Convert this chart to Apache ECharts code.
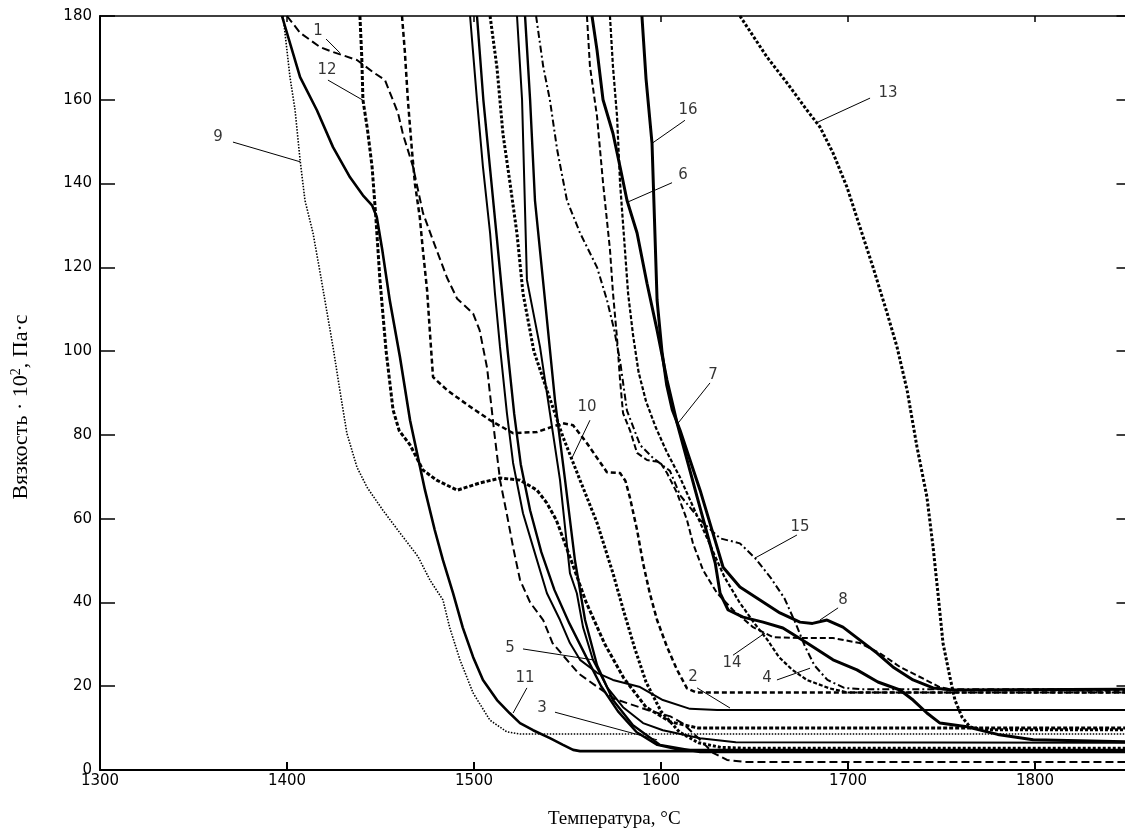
<!DOCTYPE html>
<html><head><meta charset="utf-8">
<script src="https://cdn.jsdelivr.net/npm/echarts@6/dist/echarts.min.js"></script>
<style>html,body{margin:0;padding:0;background:#fff}#c{width:1125px;height:836px}</style>
</head><body><div id="c"></div>
<script>
// ---- axis setup ----
const xTicks = [1300, 1400, 1500, 1600, 1700, 1800];
const yTicks = [0, 20, 40, 60, 80, 100, 120, 140, 160, 180];
const xTitle = 'Температура, °С';
const yTitleMain = 'Вязкость · 10';
const yTitleSup = '2';
const yTitleTail = ', Па·с';

// ---- curves: [temperature °C, viscosity ·10^2 Pa·s] ----
const curve1 = [[1400,180],[1407,176],[1417.6,172.6],[1424.6,171.4],[1437.4,169.5],[1446,166.6],[1452.4,164.7],[1459.4,156.8],[1462,151.8],[1467.4,144],[1472.7,133],[1478,126.5],[1485.6,117.5],[1491,112.5],[1499.5,109],[1503,105],[1507,96],[1509,88],[1511,80],[1514,69],[1517.6,61],[1521,53],[1524.6,45.4],[1530,40],[1537,35.8],[1542,30.3],[1556,23],[1575,17],[1595,14],[1605,12.8],[1612,11],[1620.9,7.2],[1627.8,4.1],[1635.3,2.4],[1645,1.9],[1850,1.9]];
const curve2 = [[1497.9,180],[1501.6,159.9],[1504.8,143.9],[1508.6,128.2],[1511.2,113.8],[1513.9,101],[1517.6,85.2],[1520.9,73.3],[1526.2,61.3],[1531.6,53.2],[1539,42.2],[1546,35.8],[1551.3,30.3],[1556.7,26.3],[1565.8,23.2],[1574.3,21.5],[1588.8,19.8],[1601,16.7],[1615.5,14.6],[1630,14.3],[1850,14.3]];
const curve3 = [[1523,180],[1525.7,160],[1528.3,117],[1535.3,101],[1540.6,85.2],[1546,69.2],[1551.3,47],[1555,42.2],[1558.3,34.1],[1563.6,26.3],[1571.1,19.8],[1579.7,15],[1590.4,11.2],[1601,9.5],[1620.9,7.6],[1640,6.6],[1850,6.5]];
const curve4 = [[1572.7,180],[1574.3,168],[1576.5,156],[1578.1,140.2],[1580.7,124.3],[1582.4,113.8],[1585,104],[1588,95],[1592,88],[1597,82],[1603,76],[1610,70],[1618,62],[1626,54],[1634,46],[1642,40],[1650,35],[1657,31],[1663,27],[1670,24],[1678,21.5],[1690,19.5],[1700,18.5],[1850,18.5]];
const curve5 = [[1501.6,180],[1505,160],[1508.5,144],[1512,128],[1515,114],[1518,100],[1521.5,85],[1525,73],[1530,62],[1536,52],[1543,43],[1551,35],[1560,27],[1568,20],[1577,14],[1587,9],[1598,6],[1610,4.8],[1850,4.8]];
const curve6 = [[1563.1,180],[1565.8,171.8],[1569,160],[1574.3,152],[1578.1,144],[1581.8,136],[1587.2,128.2],[1592.5,116.2],[1597.9,105],[1603.2,93.1],[1608.6,82.8],[1619.3,65.2],[1629,49.4],[1631.6,42.2],[1635.9,38.2],[1643.9,36.5],[1654.6,35.3],[1665.2,33.9],[1678.1,30.3],[1692,26.3],[1704.8,23.9],[1716,21],[1727.8,19.1],[1734.8,16.7],[1742.2,13.6],[1749.2,11.2],[1763.6,10.3],[1780,8.5],[1799,7.2],[1850,6.7]];
const curve7 = [[1527.3,180],[1530,160],[1532.6,136],[1538,112],[1543.3,88.3],[1548.7,69.2],[1554,50],[1559.4,35.8],[1565.8,25],[1574.3,16.7],[1585,10.7],[1599.5,6],[1620.9,4.3],[1850,4.3]];
const curve8 = [[1589.8,180],[1592,165],[1595.2,149.6],[1597.9,112.2],[1600.5,100],[1603,92],[1606,86],[1610.2,81.1],[1620.9,66.8],[1630,53.2],[1633.2,48.4],[1642.2,43.7],[1652.9,40.6],[1663.6,37.5],[1674.3,35.3],[1681,35],[1688.8,35.8],[1697.3,34.1],[1706.4,31],[1715.5,27.9],[1724,24.6],[1734.8,21.5],[1745.5,19.6],[1756.1,19.1],[1850,19.3]];
const curve9 = [[1397.9,180],[1401.6,165.4],[1404.3,157.6],[1407,145.6],[1409.6,136],[1413.9,128.2],[1417.6,119],[1424.6,101],[1428,91.4],[1432,80.4],[1437.4,72.3],[1442.8,67.5],[1451.3,62],[1460.4,56.6],[1470,51],[1476.5,45.3],[1483.4,40.6],[1487,34],[1492.5,26.3],[1499.5,18.4],[1508.5,11.9],[1517.6,9.1],[1524.6,8.6],[1535,8.6],[1850,8.6]];
const curve10 = [[1508.6,180],[1512.3,167.6],[1515.5,151.8],[1519.3,140],[1523,128],[1526.2,113.8],[1532,100],[1539,90.7],[1547.6,79.5],[1556.7,69.2],[1565.8,59],[1574.3,47],[1580,38],[1586,29],[1592,21],[1600,14],[1610,9],[1620,6.5],[1632,5.4],[1645,5.2],[1850,5.2]];
const curve11 = [[1397.3,180],[1407,165.4],[1416,157.5],[1424.6,148.7],[1433.7,141.5],[1440.6,137.2],[1445.5,134.8],[1448,132],[1451,124],[1455,112],[1460.4,98.6],[1465.8,83.5],[1473.8,66.8],[1479,57.3],[1483.4,50.1],[1488.8,42.2],[1494,34],[1499.5,27],[1504.8,21.5],[1512.3,16.7],[1519,13.6],[1524.6,11.2],[1531.6,9.5],[1540.6,7.6],[1547.6,6],[1553,4.8],[1556.7,4.5],[1850,4.5]];
const curve12 = [[1439,180],[1440,170],[1440.6,160],[1443,153],[1445.5,144],[1447.5,132],[1449.7,117],[1453,100],[1456.7,86],[1460,81],[1465.8,77.6],[1472.7,71.6],[1480,69.2],[1491,66.8],[1503,68.5],[1514,69.7],[1524.6,69.2],[1533.7,66.8],[1539,63.7],[1544,59.7],[1552,50],[1560,40],[1570,30],[1580,22],[1592,15],[1605,11.5],[1620,10],[1850,10]];
const curve13 = [[1642.2,180],[1656.7,170.2],[1667.4,164],[1678.1,157.5],[1685,153.5],[1692,147.3],[1699.5,139.1],[1706.4,129.6],[1713.4,120],[1720.9,109.1],[1726.2,101],[1731.6,90.7],[1736.9,77.1],[1742.2,65.2],[1745.5,53.2],[1748.1,42.2],[1750.8,30.3],[1754.5,22.2],[1757.2,16.7],[1761,12.6],[1765.2,10.3],[1772.2,9.6],[1850,9.6]];
const curve14 = [[1560.4,180],[1562,168],[1565.8,156],[1569,140.2],[1572.7,124.3],[1574.3,114],[1576.5,103],[1578.1,93.1],[1579.7,85.2],[1583.4,81.1],[1587.2,75.7],[1592.5,74],[1599.5,73.5],[1603.2,70.9],[1608.6,66.1],[1613.9,59.7],[1617.1,54.1],[1622.5,47.7],[1630,42.2],[1638.5,38.2],[1649.2,34.1],[1660,31.7],[1674.3,31.5],[1692,31.5],[1706.4,30.3],[1717,27.9],[1727.8,24.6],[1738.5,22.2],[1749,19.8],[1756,19.1],[1850,18.9]];
const curve15 = [[1533.2,180],[1537,168],[1540.6,159.9],[1544.5,148],[1549.7,136],[1556.7,128.2],[1565.8,120],[1571.1,112.2],[1575,105],[1578.1,97.7],[1581.8,85.8],[1588.8,77.6],[1595.7,74.5],[1604.8,71.4],[1610.2,65.6],[1620.9,59.7],[1631.6,55.3],[1642.2,54.1],[1650.3,50.6],[1658.8,45.8],[1666,41],[1672,35],[1677,29.5],[1682,25],[1689,21.5],[1698,19.6],[1706.4,19.3],[1850,19.3]];
const curve16 = [[1461.5,180],[1463,171.6],[1464.7,159.6],[1466.8,148],[1468.4,140],[1471,132],[1472.7,124],[1474.9,114.6],[1476.5,104],[1478.1,93.8],[1485.6,90.7],[1497,87],[1508.6,83.5],[1520.9,80.4],[1533.7,80.7],[1547.6,82.8],[1553,82.3],[1560.4,78],[1571.1,71.1],[1578.1,70.9],[1581,69],[1583.4,65],[1587.2,57.3],[1590.4,49.4],[1594,42.2],[1597.9,35.8],[1603.2,29.4],[1608.6,23.9],[1613.9,19.5],[1619,18.5],[1850,18.5]];

// ---- curve labels: text, text position, leader line start, leader line end ----
const labelTexts = ['1','12','9','16','6','13','7','10','15','8','14','4','2','5','11','3'];
const labelPos = [[1416.6,176.4],[1421.4,167.1],[1363.1,151.1],[1614.4,157.5],[1611.8,141.9],[1721.4,161.6],[1627.8,94.3],[1560.4,86.6],[1674.3,58],[1697.3,40.6],[1638,25.5],[1656.7,22],[1617.1,22.2],[1519.3,29.1],[1527.3,22],[1536.4,14.8]];
const leaderFrom = [[1420.9,174.5],[1421.9,164.7],[1371.1,149.9],[1612.8,155.1],[1605.9,140.2],[1711.8,160.4],[1626.2,92.4],[1562,83.5],[1672.7,56.1],[1694.7,38.7],[1638.5,27.4],[1662,21.5],[1619.3,19.6],[1526.2,28.9],[1528.3,19.6],[1543.3,13.8]];
const leaderTo = [[1428.3,171.2],[1440.6,159.9],[1407,145.2],[1595.2,149.6],[1581.8,135.5],[1684,154.7],[1609.1,82.8],[1552.4,74.5],[1650.3,50.6],[1685,35.8],[1655.6,32.7],[1679.7,24.3],[1636.9,14.8],[1563.6,26.3],[1520.9,13.6],[1597.9,7.2]];

const SOLID = 'solid';
const curves = [
  {d: curve1,  t: [8,4],   w: 2},
  {d: curve2,  t: SOLID,   w: 2},
  {d: curve3,  t: SOLID,   w: 2},
  {d: curve4,  t: [4,2],   w: 2.2},
  {d: curve5,  t: SOLID,   w: 2.4},
  {d: curve6,  t: SOLID,   w: 3},
  {d: curve7,  t: SOLID,   w: 2.4},
  {d: curve8,  t: SOLID,   w: 3},
  {d: curve9,  t: [1.5,1.5], w: 1.6},
  {d: curve10, t: [3,2],   w: 3},
  {d: curve11, t: SOLID,   w: 2.6},
  {d: curve12, t: [4,2],   w: 3},
  {d: curve13, t: [3,2],   w: 3},
  {d: curve14, t: [6,3],   w: 2},
  {d: curve15, t: [7,3,2,3], w: 2},
  {d: curve16, t: [5,3],   w: 2.5}
];

const chart = echarts.init(document.getElementById('c'), null, {renderer: 'canvas'});
const series = curves.map((c, i) => ({
  type: 'line', name: 'c' + (i + 1), data: c.d, showSymbol: false, symbol: 'none',
  xAxisIndex: 0, yAxisIndex: 0, animation: false, silent: true, z: 3,
  lineStyle: {color: '#000', width: c.w, type: c.t}
}));
labelTexts.forEach((t, i) => {
  series.push({
    type: 'line', data: [leaderFrom[i], leaderTo[i]], showSymbol: false, symbol: 'none',
    animation: false, silent: true, z: 4, lineStyle: {color: '#000', width: 1}
  });
});
series.push({
  type: 'scatter', animation: false, silent: true, z: 5, symbolSize: 1,
  itemStyle: {color: 'rgba(0,0,0,0)'},
  data: labelPos.map((p, i) => ({value: p, name: labelTexts[i]})),
  label: {show: true, position: 'inside', formatter: p => p.name, color: '#000',
          fontFamily: 'DejaVu Sans', fontSize: 15}
});

const axisFont = {fontFamily: 'DejaVu Sans', fontSize: 15, color: '#000'};
chart.setOption({
  animation: false,
  backgroundColor: '#fff',
  grid: {left: 100, top: 16, right: -3.5, bottom: 66, containLabel: false, outerBoundsMode: 'none'},
  xAxis: [
    {type: 'value', min: 1300, max: 1850, interval: 100, position: 'bottom',
     axisLine: {show: true, onZero: false, lineStyle: {color: '#000', width: 2}},
     axisTick: {show: true, inside: true, length: 8, lineStyle: {color: '#000', width: 2}},
     axisLabel: Object.assign({margin: 4, showMaxLabel: false,
       formatter: v => xTicks.includes(v) ? String(v) : ''}, axisFont),
     splitLine: {show: false},
     name: xTitle, nameLocation: 'middle', nameGap: 40,
     nameTextStyle: {fontFamily: 'Liberation Serif', fontSize: 19, color: '#000'}},
    {type: 'value', min: 1300, max: 1850, interval: 100, position: 'top',
     axisLine: {show: true, onZero: false, lineStyle: {color: '#000', width: 1.5}},
     axisTick: {show: true, inside: true, length: 6, lineStyle: {color: '#000', width: 1.5}},
     axisLabel: {show: false}, splitLine: {show: false}}
  ],
  yAxis: [
    {type: 'value', min: 0, max: 180, interval: 20, position: 'left',
     axisLine: {show: true, onZero: false, lineStyle: {color: '#000', width: 2}},
     axisTick: {show: true, inside: true, length: 15, lineStyle: {color: '#000', width: 1.5}},
     axisLabel: Object.assign({margin: 8, formatter: v => yTicks.includes(v) ? String(v) : ''}, axisFont),
     splitLine: {show: false},
     name: '{a|' + yTitleMain + '}{s|' + yTitleSup + '}{a|' + yTitleTail + '}',
     nameLocation: 'middle', nameGap: 67, nameRotate: 90,
     nameTextStyle: {padding: [0, 28, 0, 0], rich: {
       a: {fontFamily: 'Liberation Serif', fontSize: 22, color: '#000'},
       s: {fontFamily: 'Liberation Serif', fontSize: 14, color: '#000', verticalAlign: 'top', padding: [0,0,10,0]}
     }}},
    {type: 'value', min: 0, max: 180, interval: 20, position: 'right',
     axisLine: {show: true, onZero: false, lineStyle: {color: '#000', width: 1.5}},
     axisTick: {show: true, inside: true, length: 12, lineStyle: {color: '#000', width: 1.5}},
     axisLabel: {show: false}, splitLine: {show: false}}
  ],
  series: series
});
</script></body></html>
